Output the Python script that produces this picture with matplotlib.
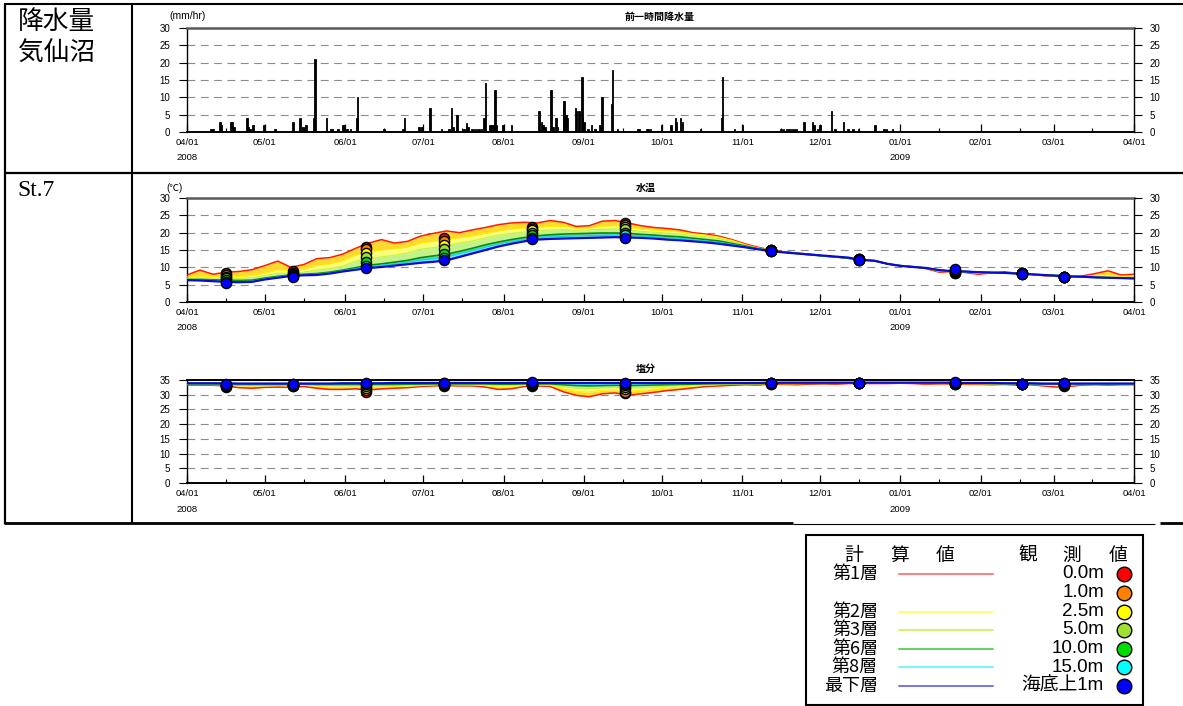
import numpy as np
import matplotlib
matplotlib.use("Agg")
import matplotlib.pyplot as plt
import matplotlib.dates as mdates
from matplotlib.patches import Rectangle

plt.rcParams['font.family'] = ['Liberation Sans', 'Noto Sans CJK JP', 'DejaVu Sans']

# ---------------- data ----------------
period_start = '2008-04-01'
period_end = '2009-04-01'
year_labels = [('2008-04-01', '2008'), ('2009-01-01', '2009')]

# hourly rainfall events (days after 2008-04-01, mm/hr)
rain_day = [9.0, 9.6, 10.2, 12.7, 13.2, 17.0, 17.5, 18.1, 23.1, 23.6,
            24.3, 25.4, 29.7, 33.6, 34.2, 40.9, 43.6, 44.7, 45.9, 48.7,
            49.3, 53.9, 55.5, 56.0, 58.2, 60.1, 60.5, 61.7, 63.1, 65.5,
            65.8, 75.9, 83.3, 83.7, 89.4, 90.6, 93.7, 98.2, 101.0, 102.0,
            102.5, 104.1, 106.8, 107.8, 108.3, 109.9, 110.8, 111.7, 112.6, 113.5,
            114.5, 115.1, 116.8, 117.5, 118.2, 118.7, 119.3, 121.8, 125.2, 135.7,
            136.5, 137.2, 138.0, 140.3, 141.1, 142.2, 142.9, 145.1, 145.3, 146.1,
            146.5, 149.8, 150.2, 151.1, 152.2, 152.5, 153.0, 154.5, 156.0, 157.3,
            159.2, 160.0, 163.5, 164.1, 165.8, 173.5, 174.2, 177.3, 178.0, 178.7,
            183.0, 186.6, 188.2, 188.5, 190.1, 191.1, 197.8, 206.1, 206.4, 211.0,
            214.2, 229.0, 230.0, 231.0, 232.0, 233.0, 234.0, 235.0, 237.8, 241.2,
            241.7, 243.1, 244.0, 248.5, 249.8, 253.0, 254.8, 256.7, 258.7, 265.2,
            268.7, 269.7, 271.9]
rain_mm = [1, 1, 1, 3, 2, 3, 3, 1.5, 4, 1.5,
           1, 2, 2, 1, 1, 3, 4, 1.5, 2, 4,
           21, 4, 1, 1, 1, 2, 2, 1, 1, 4,
           10, 1, 1, 4, 1.5, 1.5, 7, 1, 1, 7,
           1.5, 5, 1, 2.5, 1.5, 1, 1, 1, 1, 1,
           4, 14, 2, 2, 2, 12, 2, 2, 2, 6,
           3, 2, 1.5, 12, 1.5, 4, 1.5, 7, 9, 5,
           4, 7, 6, 6, 16, 4, 3, 1, 2, 1,
           2, 10, 8, 18, 1, 1, 1, 1, 1, 1,
           2, 2, 4, 3, 4, 3, 1, 4, 16, 1,
           2, 1, 1, 1, 1, 1, 1, 1, 3, 3,
           2, 1, 2, 6, 1, 3, 1, 1, 1, 2,
           1, 1, 1]

# model output every 5 days (days after 2008-04-01)
model_day = list(range(0, 366, 5))

temp_layer1 = [7.8, 9.2, 8.0, 8.6, 8.8, 9.3, 10.5, 11.8, 10.0, 10.8,
               12.5, 12.8, 13.8, 15.5, 17.0, 18.0, 17.0, 17.5, 19.0, 19.8,
               20.5, 20.0, 20.8, 21.5, 22.3, 22.8, 23.0, 22.8, 23.5, 23.0,
               21.8, 22.0, 23.3, 23.5, 22.8, 22.0, 21.5, 21.2, 20.8, 20.0,
               19.6, 19.0, 18.0, 16.8, 15.8, 15.0, 14.5, 14.1, 13.8, 13.3,
               13.0, 12.6, 12.2, 11.9, 11.0, 10.5, 10.2, 9.6, 8.6, 8.8,
               8.5, 8.0, 8.4, 8.7, 8.3, 8.0, 7.6, 7.4, 7.2, 7.5,
               8.2, 9.0, 7.8, 8.0]
temp_layer2 = [7.2, 7.5, 7.3, 7.5, 7.3, 7.6, 8.3, 9.3, 9.0, 9.5,
               10.5, 11.0, 11.8, 13.5, 14.5, 15.0, 15.3, 15.8, 17.0, 17.5,
               18.0, 18.5, 19.0, 19.8, 20.5, 21.0, 21.3, 21.5, 21.8, 21.8,
               21.3, 21.3, 21.8, 22.0, 21.5, 21.0, 20.7, 20.5, 20.2, 19.7,
               19.3, 18.7, 17.8, 16.6, 15.6, 14.9, 14.4, 14.0, 13.7, 13.3,
               13.0, 12.6, 12.2, 11.9, 11.0, 10.5, 10.2, 9.7, 8.8, 8.8,
               8.6, 8.3, 8.4, 8.5, 8.3, 8.0, 7.7, 7.5, 7.3, 7.3,
               7.6, 7.8, 7.4, 7.5]
temp_layer3 = [6.8, 7.0, 6.9, 7.0, 6.8, 7.0, 7.6, 8.3, 8.3, 8.6,
               9.2, 9.6, 10.3, 11.8, 12.5, 13.0, 13.5, 14.2, 15.2, 15.7,
               16.3, 17.0, 17.6, 18.5, 19.3, 19.8, 20.2, 20.5, 20.8, 20.9,
               20.7, 20.8, 21.0, 21.1, 20.8, 20.4, 20.1, 19.9, 19.6, 19.2,
               18.8, 18.3, 17.5, 16.4, 15.5, 14.9, 14.4, 14.0, 13.6, 13.3,
               13.0, 12.6, 12.2, 11.9, 11.0, 10.5, 10.2, 9.8, 9.0, 8.9,
               8.7, 8.5, 8.5, 8.4, 8.2, 8.0, 7.7, 7.5, 7.3, 7.2,
               7.2, 7.2, 7.1, 7.1]
temp_layer6 = [6.5, 6.5, 6.4, 6.3, 6.2, 6.3, 6.9, 7.4, 7.8, 8.0,
               8.2, 8.6, 9.2, 9.9, 10.6, 11.0, 11.5, 12.0, 12.8, 13.3,
               13.8, 14.6, 15.5, 16.5, 17.3, 18.0, 18.6, 19.1, 19.4, 19.6,
               19.7, 19.8, 19.9, 19.9, 19.8, 19.5, 19.3, 19.0, 18.8, 18.4,
               18.0, 17.6, 16.9, 16.2, 15.4, 14.8, 14.4, 14.0, 13.6, 13.3,
               13.0, 12.6, 12.2, 11.9, 11.0, 10.5, 10.1, 9.8, 9.1, 8.9,
               8.8, 8.6, 8.5, 8.4, 8.2, 8.0, 7.8, 7.6, 7.4, 7.2,
               7.1, 7.0, 6.9, 6.8]
temp_layer8 = [6.4, 6.3, 6.2, 6.0, 5.9, 6.0, 6.7, 7.2, 7.6, 7.8,
               8.0, 8.4, 9.0, 9.6, 10.2, 10.6, 11.0, 11.5, 12.1, 12.5,
               13.0, 13.9, 14.8, 15.8, 16.7, 17.4, 18.0, 18.5, 18.8, 18.9,
               19.0, 19.1, 19.2, 19.3, 19.2, 19.0, 18.8, 18.5, 18.3, 18.0,
               17.6, 17.2, 16.6, 16.0, 15.3, 14.7, 14.4, 14.0, 13.6, 13.3,
               13.0, 12.7, 12.2, 11.9, 11.0, 10.5, 10.1, 9.8, 9.2, 8.9,
               8.8, 8.6, 8.5, 8.4, 8.2, 8.0, 7.8, 7.6, 7.4, 7.3,
               7.1, 7.0, 6.9, 6.8]
temp_bottom = [6.3, 6.2, 6.0, 5.8, 5.7, 5.8, 6.5, 7.0, 7.5, 7.7,
               7.8, 8.2, 8.8, 9.3, 9.8, 10.1, 10.5, 10.9, 11.3, 11.6,
               12.0, 13.0, 14.0, 15.0, 16.0, 16.8, 17.5, 18.0, 18.2, 18.3,
               18.4, 18.5, 18.6, 18.7, 18.6, 18.5, 18.3, 18.0, 17.8, 17.5,
               17.2, 16.8, 16.3, 15.8, 15.2, 14.7, 14.3, 14.0, 13.7, 13.4,
               13.1, 12.8, 12.1, 11.9, 11.0, 10.4, 10.1, 9.8, 9.2, 8.9,
               8.8, 8.6, 8.5, 8.4, 8.2, 8.0, 7.8, 7.6, 7.4, 7.3,
               7.1, 7.0, 6.9, 6.8]

sal_layer1 = [33.3, 33.3, 33.2, 33.0, 32.4, 32.2, 32.5, 32.6, 32.5, 32.8,
              32.2, 31.8, 31.8, 32.0, 31.6, 32.0, 32.2, 32.4, 32.8, 33.0,
              33.1, 33.0, 33.0, 32.6, 31.8, 32.0, 32.8, 33.0, 32.8, 31.0,
              29.8, 29.3, 30.3, 30.6, 29.8, 30.3, 30.8, 31.4, 31.8, 32.3,
              32.8, 33.0, 33.2, 33.4, 33.3, 33.6, 33.5, 33.4, 33.6, 33.7,
              33.6, 33.8, 33.8, 33.8, 33.8, 33.9, 33.8, 33.6, 33.7, 33.7,
              33.5, 33.5, 33.4, 33.5, 33.3, 33.4, 33.0, 32.6, 32.8, 33.3,
              33.4, 33.3, 33.4, 33.4]
sal_layer2 = [33.5, 33.5, 33.4, 33.3, 33.0, 32.9, 33.0, 33.1, 33.0, 33.2,
              32.9, 32.6, 32.5, 32.6, 32.4, 32.6, 32.8, 32.9, 33.1, 33.3,
              33.4, 33.3, 33.3, 33.1, 32.6, 32.7, 33.2, 33.3, 33.2, 32.0,
              31.2, 30.9, 31.5, 31.7, 31.2, 31.5, 31.9, 32.3, 32.6, 32.9,
              33.2, 33.4, 33.5, 33.6, 33.6, 33.8, 33.7, 33.7, 33.8, 33.8,
              33.8, 33.9, 33.9, 33.9, 33.9, 33.9, 33.9, 33.8, 33.8, 33.8,
              33.7, 33.7, 33.6, 33.6, 33.5, 33.5, 33.3, 33.1, 33.2, 33.5,
              33.5, 33.5, 33.5, 33.5]
sal_layer3 = [33.6, 33.6, 33.5, 33.5, 33.3, 33.2, 33.3, 33.3, 33.3, 33.4,
              33.2, 33.1, 33.0, 33.0, 32.9, 33.0, 33.1, 33.2, 33.3, 33.5,
              33.5, 33.5, 33.5, 33.4, 33.1, 33.2, 33.4, 33.5, 33.4, 32.7,
              32.2, 32.0, 32.3, 32.5, 32.2, 32.4, 32.6, 32.9, 33.1, 33.3,
              33.5, 33.6, 33.7, 33.7, 33.7, 33.9, 33.8, 33.8, 33.9, 33.9,
              33.9, 33.9, 33.9, 33.9, 33.9, 34.0, 33.9, 33.9, 33.9, 33.9,
              33.8, 33.8, 33.7, 33.7, 33.6, 33.6, 33.5, 33.4, 33.4, 33.6,
              33.6, 33.6, 33.6, 33.6]
sal_layer6 = [33.7, 33.7, 33.7, 33.6, 33.5, 33.5, 33.5, 33.5, 33.5, 33.6,
              33.5, 33.5, 33.5, 33.5, 33.5, 33.5, 33.5, 33.6, 33.6, 33.7,
              33.7, 33.7, 33.7, 33.7, 33.6, 33.6, 33.7, 33.7, 33.7, 33.4,
              33.1, 33.0, 33.1, 33.2, 33.1, 33.2, 33.3, 33.4, 33.5, 33.6,
              33.7, 33.8, 33.8, 33.8, 33.8, 33.9, 33.9, 33.9, 33.9, 33.9,
              33.9, 34.0, 34.0, 34.0, 34.0, 34.0, 34.0, 34.0, 34.0, 34.0,
              33.9, 33.9, 33.8, 33.8, 33.7, 33.7, 33.6, 33.6, 33.6, 33.7,
              33.7, 33.7, 33.7, 33.7]
sal_layer8 = [33.8, 33.8, 33.8, 33.7, 33.7, 33.7, 33.7, 33.7, 33.7, 33.7,
              33.7, 33.7, 33.8, 33.8, 33.8, 33.8, 33.8, 33.8, 33.8, 33.9,
              33.9, 33.9, 33.9, 33.9, 33.9, 33.9, 33.9, 33.9, 33.9, 33.8,
              33.7, 33.6, 33.7, 33.7, 33.7, 33.7, 33.8, 33.8, 33.8, 33.9,
              33.9, 33.9, 33.9, 33.9, 33.9, 34.0, 34.0, 34.0, 34.0, 34.0,
              34.0, 34.0, 34.0, 34.0, 34.0, 34.0, 34.0, 34.0, 34.0, 34.0,
              33.9, 33.9, 33.9, 33.8, 33.8, 33.8, 33.7, 33.7, 33.7, 33.7,
              33.7, 33.7, 33.7, 33.7]
sal_bottom = [33.9, 33.9, 33.9, 33.9, 33.8, 33.8, 33.8, 33.8, 33.8, 33.8,
              33.8, 33.8, 33.9, 33.9, 33.9, 33.9, 34.0, 34.0, 34.0, 34.0,
              34.0, 34.0, 34.0, 34.0, 34.0, 34.0, 34.0, 34.0, 34.0, 34.0,
              34.0, 34.0, 34.0, 34.0, 34.0, 34.0, 34.0, 34.0, 34.0, 34.0,
              34.0, 34.0, 34.0, 34.0, 34.0, 34.1, 34.1, 34.1, 34.1, 34.1,
              34.1, 34.1, 34.1, 34.1, 34.1, 34.1, 34.1, 34.1, 34.1, 34.1,
              34.0, 34.0, 34.0, 33.9, 33.9, 33.9, 33.8, 33.8, 33.8, 33.8,
              33.8, 33.8, 33.8, 33.8]

# observations (days after 2008-04-01); each row: 0.0m,1.0m,2.5m,5.0m,10m,15m,bottom+1m
obs_day = [15, 41, 69, 99, 133, 169, 225, 259, 296, 322, 338]
obs_temp = [[8.3, 7.8, 7.3, 6.8, 6.3, 5.8, 5.4],
            [8.8, 8.5, 8.2, 7.9, 7.7, 7.5, 7.3],
            [16.0, 15.2, 14.2, 13.0, 11.5, 10.5, 9.9],
            [18.4, 17.5, 16.5, 15.3, 13.8, 12.8, 12.1],
            [21.7, 21.2, 20.7, 20.0, 19.2, 18.6, 18.2],
            [22.7, 22.2, 21.6, 21.0, 20.0, 19.2, 18.6],
            [15.0, 15.0, 14.9, 14.9, 14.8, 14.8, 14.7],
            [12.4, 12.4, 12.3, 12.3, 12.2, 12.2, 12.1],
            [8.3, 8.4, 8.6, 8.8, 9.0, 9.3, 9.5],
            [8.3, 8.3, 8.3, 8.3, 8.2, 8.2, 8.2],
            [7.3, 7.3, 7.3, 7.3, 7.3, 7.3, 7.3]]
obs_sal = [[32.6, 32.8, 33.0, 33.2, 33.3, 33.4, 33.5],
           [33.0, 33.1, 33.2, 33.3, 33.4, 33.5, 33.5],
           [31.0, 31.5, 32.3, 33.0, 33.5, 33.8, 34.1],
           [33.0, 33.2, 33.4, 33.6, 33.8, 34.0, 34.1],
           [33.0, 33.2, 33.4, 33.6, 33.8, 34.0, 34.2],
           [30.5, 31.0, 31.8, 32.6, 33.3, 33.8, 34.1],
           [33.8, 33.8, 33.9, 33.9, 33.9, 34.0, 34.0],
           [33.9, 33.9, 34.0, 34.0, 34.0, 34.0, 34.1],
           [33.6, 33.7, 33.8, 33.9, 34.0, 34.1, 34.2],
           [33.6, 33.6, 33.6, 33.6, 33.6, 33.6, 33.6],
           [33.0, 33.2, 33.4, 33.6, 33.8, 33.9, 34.0]]

layer_names = ['第1層', '第2層', '第3層', '第6層', '第8層', '最下層']
obs_depths = ['0.0m', '1.0m', '2.5m', '5.0m', '10.0m', '15.0m', '海底上1m']

# ---------------- style ----------------
line_colors = ['#ff1a00', '#fff000', '#c8f040', '#0a8a0a', '#10d8d8', '#0a0ad0']
line_widths = [1.1, 0.8, 0.8, 1.2, 0.9, 1.6]
fill_colors = ['#ffd830', '#f8ff78', '#c4f28a', '#5ad8b4', '#78dcff']
legend_line_colors = ['#ff5a5a', '#ffff46', '#c8f046', '#32c832', '#50f5f5', '#5050f5']
obs_colors = ['#ff0000', '#ff8000', '#ffff00', '#a0e030', '#00dd00', '#00ffff', '#0000ff']

W, H = 1183, 706
fig = plt.figure(figsize=(W / 100, H / 100), dpi=100)
fig.patch.set_facecolor('white')

# overlay in pixel coordinates for frame, labels and legend
axo = fig.add_axes([0, 0, 1, 1])
axo.set_xlim(0, W)
axo.set_ylim(H, 0)
axo.axis('off')

base = mdates.date2num(np.datetime64(period_start))
xend = mdates.date2num(np.datetime64(period_end))


def to_x(days):
    return base + np.asarray(days, dtype=float)


def px_axes(left, top, right, bottom):
    return fig.add_axes([left / W, 1 - bottom / H, (right - left) / W, (bottom - top) / H])


def style_panel(ax, ymax, top_color, top_lw):
    ax.set_xlim(base, xend)
    ax.set_ylim(0, ymax)
    ticks = np.arange(0, ymax + 1, 5)
    ax.set_yticks(ticks)
    ax.xaxis.set_major_locator(mdates.MonthLocator())
    ax.xaxis.set_minor_locator(mdates.MonthLocator(bymonthday=16))
    ax.xaxis.set_major_formatter(mdates.DateFormatter('%m/%d'))
    ax.tick_params(axis='x', which='major', direction='in', length=6, width=0.9,
                   labelsize=6.8, pad=4.5)
    ax.tick_params(axis='x', which='minor', direction='in', length=3, width=0.8)
    ax.grid(axis='y', color='#8c8c8c', lw=0.8, ls=(0, (7, 5)))
    ax.set_axisbelow(True)
    ax2 = ax.twinx()
    ax2.set_ylim(0, ymax)
    ax2.set_yticks(ticks)
    for s in ax2.spines.values():
        s.set_visible(False)
    ax.tick_params(axis='y', direction='out', length=6, width=0.8, labelsize=7, pad=6)
    ax2.tick_params(axis='y', direction='out', length=6, width=0.8, labelsize=7, pad=5)
    for side in ['left', 'right']:
        ax.spines[side].set_linewidth(1.0)
        ax.spines[side].set_color('black')
    ax.spines['bottom'].set_linewidth(1.4)
    ax.spines['top'].set_color(top_color)
    ax.spines['top'].set_linewidth(top_lw)
    for d, lab in year_labels:
        ax.annotate(lab, xy=(mdates.date2num(np.datetime64(d)), 0),
                    xycoords=('data', 'axes fraction'), xytext=(0, -26 * 0.72),
                    textcoords='offset points', ha='center', va='center', fontsize=6.8)


# ---- precipitation panel ----
ax_r = px_axes(187, 28, 1134, 132)
ax_r.bar(to_x(rain_day), rain_mm, width=0.5, color='black', edgecolor='black',
         lw=0.6, zorder=3)
style_panel(ax_r, 30, '#5a5a5a', 1.8)

# ---- temperature panel ----
ax_t = px_axes(187, 198, 1134, 302)
tx = to_x(model_day)
t_layers = [temp_layer1, temp_layer2, temp_layer3, temp_layer6, temp_layer8, temp_bottom]
for i in range(len(t_layers) - 1):
    ax_t.fill_between(tx, t_layers[i], t_layers[i + 1], color=fill_colors[i], lw=0, zorder=2)
for i, lay in enumerate(t_layers):
    ax_t.plot(tx, lay, color=line_colors[i], lw=line_widths[i], zorder=3)
for j, d in enumerate(obs_day):
    for k in range(7):
        ax_t.plot(to_x(d), obs_temp[j][k], 'o', ms=7.3, mfc=obs_colors[k],
                  mec='black', mew=1.0, zorder=5)
style_panel(ax_t, 30, '#5a5a5a', 1.8)

# ---- salinity panel ----
ax_s = px_axes(187, 380, 1134, 483)
s_layers = [sal_layer1, sal_layer2, sal_layer3, sal_layer6, sal_layer8, sal_bottom]
for i in range(len(s_layers) - 1):
    ax_s.fill_between(tx, s_layers[i], s_layers[i + 1], color=fill_colors[i], lw=0, zorder=2)
for i, lay in enumerate(s_layers):
    ax_s.plot(tx, lay, color=line_colors[i], lw=line_widths[i], zorder=3)
for j, d in enumerate(obs_day):
    for k in range(7):
        ax_s.plot(to_x(d), obs_sal[j][k], 'o', ms=7.3, mfc=obs_colors[k],
                  mec='black', mew=1.0, zorder=5, clip_on=False)
style_panel(ax_s, 35, 'black', 1.4)

# ---- frame of the table ----
frame_kw = dict(color='black', solid_capstyle='butt')
axo.plot([4, W], [4, 4], lw=1.5, **frame_kw)
axo.plot([5, 5], [4, 524], lw=1.6, **frame_kw)
axo.plot([132, 132], [4, 524], lw=1.5, **frame_kw)
axo.plot([4, W], [173, 173], lw=1.6, **frame_kw)
axo.plot([4, 793], [523, 523], lw=2.0, **frame_kw)
axo.plot([793, 1155], [524, 524], lw=0.8, **frame_kw)
axo.plot([1160, W], [523, 523], lw=2.0, **frame_kw)

cjk = ['Noto Sans CJK JP']
axo.text(18, 21.5, '降水量', fontsize=18.5, family=cjk, ha='left', va='center')
axo.text(18, 53.5, '気仙沼', fontsize=18.5, family=cjk, ha='left', va='center')
axo.text(17, 190, 'St.7', fontsize=17, family=['Liberation Serif'], ha='left', va='center')

# titles and units
axo.text(660, 17, '前一時間降水量', fontsize=7.2, fontweight='bold', family=cjk, ha='center', va='center')
axo.text(646, 188, '水温', fontsize=7.2, fontweight='bold', family=cjk, ha='center', va='center')
axo.text(646, 369, '塩分', fontsize=7.2, fontweight='bold', family=cjk, ha='center', va='center')
axo.text(169, 16, '(mm/hr)', fontsize=7.5, ha='left', va='center')
axo.text(166, 188, '(℃)', fontsize=7, ha='left', va='center', family=['Liberation Sans', 'Noto Sans CJK JP'])

# ---- legend ----
axo.add_patch(Rectangle((806, 535), 337, 170, fill=False, lw=1.5, ec='black'))
for cx, ch in zip([854, 900, 945], '計算値'):
    axo.text(cx, 555, ch, fontsize=13.5, family=cjk, ha='center', va='center')
for cx, ch in zip([1028, 1072, 1118], '観測値'):
    axo.text(cx, 555, ch, fontsize=13.5, family=cjk, ha='center', va='center')
rows_y = [573.5, 592.5, 611.5, 630, 648.5, 667.2, 685.8]
layer_rows = [0, 2, 3, 4, 5, 6]
for i, r in enumerate(layer_rows):
    axo.text(878, rows_y[r], layer_names[i], fontsize=13, family=cjk, ha='right', va='center')
    axo.plot([899, 993], [rows_y[r], rows_y[r]], color=legend_line_colors[i], lw=1.1)
for k, lab in enumerate(obs_depths):
    axo.text(1104, rows_y[k], lab, fontsize=13.5, ha='right', va='center')
    axo.plot(1124, rows_y[k], 'o', ms=10.5, mfc=obs_colors[k], mec='black', mew=1.0)

fig.savefig('out.png', dpi=100, facecolor='white')
